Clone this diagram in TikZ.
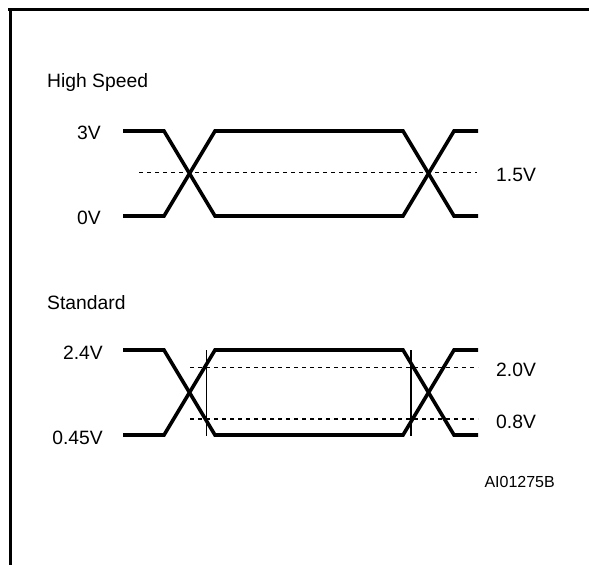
\documentclass[tikz,border=0pt]{standalone}
\usepackage{fontspec}
\setmainfont{Liberation Sans}
\tikzset{
  wave/.style={line width=3.6pt},
  level/.style={line width=1.2pt, dash pattern=on 4pt off 4pt},
  edgeline/.style={line width=1.2pt},
  frame/.style={line width=2.6pt},
  lbl/.style={inner sep=0pt, font=\fontsize{19.3}{21}\selectfont},
  ref/.style={inner sep=0pt, font=\fontsize{16}{18}\selectfont},
}
\begin{document}
\begin{tikzpicture}[x=1pt,y=-1pt]
    \useasboundingbox (0,0) rectangle (589,565);
    \def\xa{123}
    \def\xb{164}
    \def\xc{215}
    \def\xd{403}
    \def\xe{454}
    \def\xf{478}
    \draw[frame] (8,9.5) -- (589,9.5);
    \draw[frame] (10.5,8.5) -- (10.5,565);
    \node[lbl,anchor=west] (HS) at (47,83) {High Speed};
    \node[lbl,anchor=east] (V3) at (101,133) {3V};
    \node[lbl,anchor=east] (V0) at (101,218) {0V};
    \node[lbl,anchor=west] (V15) at (496,175) {1.5V};
    \node[lbl,anchor=west] (ST) at (47,302.5) {Standard};
    \node[lbl,anchor=east] (V24) at (103,353) {2.4V};
    \node[lbl,anchor=east] (V045) at (103,438) {0.45V};
    \node[lbl,anchor=west] (V20) at (496,370) {2.0V};
    \node[lbl,anchor=west] (V08) at (496,422) {0.8V};
    \node[ref,anchor=east] (AI) at (555,482) {AI01275B};
    \foreach \hi/\lo in {131/216, 350/435} {
      \draw[wave] (\xa,\hi) -- (\xb,\hi) -- (\xc,\lo) -- (\xd,\lo) -- (\xe,\hi) -- (\xf,\hi);
      \draw[wave] (\xa,\lo) -- (\xb,\lo) -- (\xc,\hi) -- (\xd,\hi) -- (\xe,\lo) -- (\xf,\lo);
    }
    \draw[level] (139,172.5) -- (477,172.5);
    \draw[level] (190,367.7) -- (478,367.7);
    \draw[level] (190,419) -- (478,419);
    \draw[edgeline] (206.7,350) -- (206.7,435.5);
    \draw[edgeline] (411,350) -- (411,435.5);
  \end{tikzpicture}
\end{document}
